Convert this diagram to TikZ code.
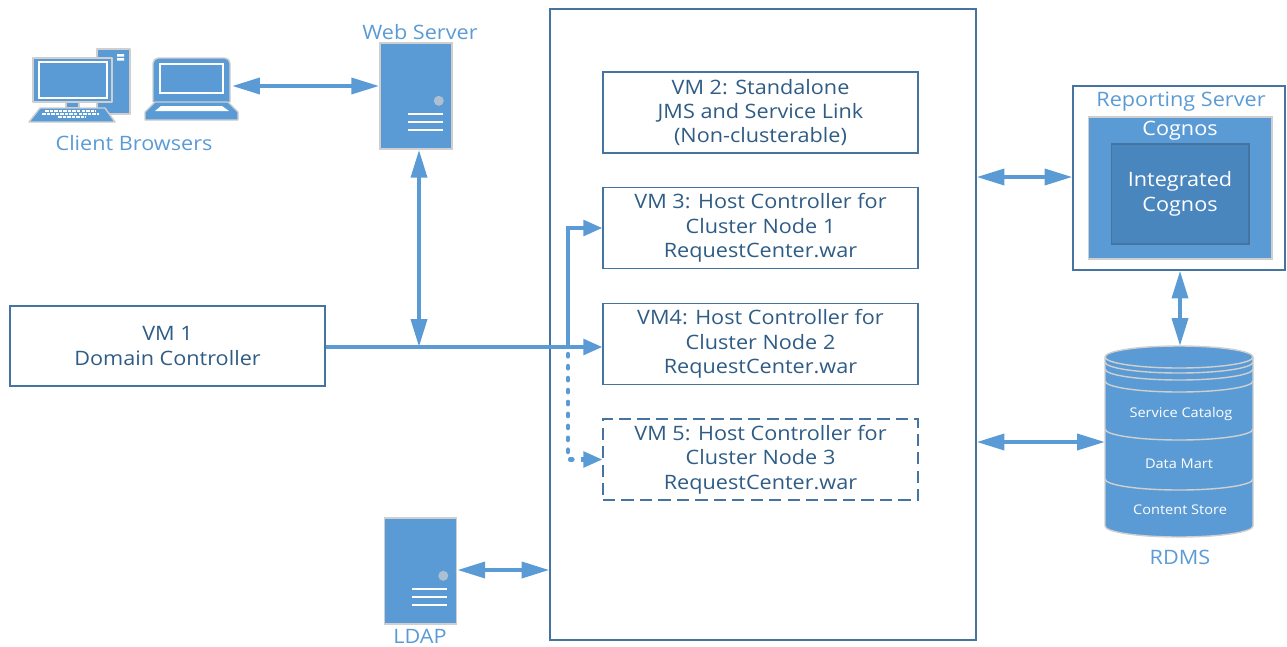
\documentclass[tikz,border=0pt]{standalone}
\usepackage{fontspec}
\setmainfont[FakeStretch=1.09]{Open Sans}
\usetikzlibrary{arrows.meta}
\definecolor{iconblue}{HTML}{5B9BD5}
\definecolor{darkblue}{HTML}{4A86BE}
\definecolor{boxline}{HTML}{44749F}
\definecolor{boxtext}{HTML}{2F5C85}
\definecolor{iconedge}{HTML}{CFCFCF}
\tikzset{%
    vmbox/.style={draw=boxline,line width=0.65pt,minimum width=6.3cm,minimum height=1.62cm,inner sep=0pt,align=center,text=boxtext,font=\fontsize{11.3}{13.9}\selectfont},
    dashbox/.style={vmbox,dash pattern=on 7pt off 3.5pt},
    link/.style={{Triangle[length=15.9pt,width=9pt]}-{Triangle[length=15.9pt,width=9pt]},iconblue,line width=2.4pt},
    feed/.style={-{Triangle[length=10.8pt,width=8.7pt]},iconblue,line width=2.4pt},
    dotfeed/.style={iconblue,line width=2.4pt,line cap=round,dash pattern=on 1.4pt off 5.4pt},
    caption/.style={text=iconblue,inner sep=0pt,font=\fontsize{11.3}{13.9}\selectfont},
    servericon/.style={draw=iconedge,fill=iconblue,line width=0.9pt,minimum width=1.44cm,minimum height=2.12cm,inner sep=0pt},
    icon/.style={draw=iconedge,fill=iconblue,line width=0.8pt,line join=round},
    whitebar/.style={white,line width=1.1pt},
    dbline/.style={draw=iconedge,line width=0.8pt},
    dbtext/.style={text=white,inner sep=0pt,font=\fontsize{7.6}{9}\selectfont},
}
\newcommand{\serverbars}[1]{%
    \fill[iconedge!70!iconblue] ([xshift=-0.28cm,yshift=0.98cm]#1.south east) circle (0.1cm);
    \foreach \h in {0.72,0.56,0.39}
        \draw[whitebar] ([xshift=-0.9cm,yshift=\h cm]#1.south east) -- ++(0.7cm,0cm);
}
\begin{document}
\begin{tikzpicture}[x=0.02cm,y=-0.02cm]
            \useasboundingbox (0,0) rectangle (1287,646);

            %main box
            \node[draw=boxline,line width=0.65pt,minimum width=8.52cm,minimum height=12.62cm,inner sep=0pt] (host) at (763,324.5) {};
            \node[vmbox] (vmtwo) at (760.5,112.5) {VM 2: Standalone\\JMS and Service Link\\(Non-clusterable)};
            \node[vmbox] (vmthree) at (760.5,228) {VM 3: Host Controller for\\Cluster Node 1\\RequestCenter.war};
            \node[vmbox] (vmfour) at (760.5,344) {VM4: Host Controller for\\Cluster Node 2\\RequestCenter.war};
            \node[dashbox] (vmfive) at (760.5,459.5) {VM 5: Host Controller for\\Cluster Node 3\\RequestCenter.war};
            \node[vmbox,minimum height=1.6cm] (vmone) at (167.5,346) {VM 1\\Domain Controller};

            %servers
            \node[servericon] (web) at (416,96) {};
            \serverbars{web}
            \node[caption] (webcap) at (420,32) {Web Server};
            \node[servericon] (ldap) at (420.5,571) {};
            \serverbars{ldap}
            \node[caption] (ldapcap) at (420,636) {LDAP};

            %desktop
            \draw[icon] (97,49) rectangle (130,114);
            \fill[white] (117,54) rectangle (124,56.5) (117,58) rectangle (124,60.5);
            \draw[icon] (33,58) rectangle (112,102);
            \draw[white,line width=0.7pt] (39,62) rectangle (107,98);
            \draw[icon] (66,102) rectangle (79,108);
            \draw[icon] (29,122) -- (40,108) -- (105,108) -- (115,122) -- cycle;
            \foreach \r/\a/\b in {111/45/96,114/42/99,117/58/86}
                \draw[white,line width=1pt,dash pattern=on 2pt off 0.6pt] (\a,\r) -- (\b,\r);

            %laptop
            \draw[icon,rounded corners=3pt] (153,102) -- (153,58) -- (230,58) -- (230,102);
            \draw[white,line width=0.7pt] (160,64) rectangle (223,93);
            \draw[icon] (145,120) -- (145,112) -- (155,102) -- (228,102) -- (238,112) -- (238,120) -- cycle;
            \fill[white] (155,111) -- (161,106) -- (222,106) -- (229,111) -- cycle;
            \node[caption] (clientcap) at (134,143) {Client Browsers};
            \coordinate (laptop) at (232,86);

            %reporting
            \node[draw=boxline,line width=0.65pt,minimum width=4.24cm,minimum height=3.68cm,inner sep=0pt] (report) at (1179,178) {};
            \node[caption] (reportcap) at (1181,102) {Reporting Server};
            \node[fill=iconblue,draw=iconedge,line width=0.6pt,minimum width=3.68cm,minimum height=2.84cm,inner sep=0pt] (cognos) at (1180,188) {};
            \node[text=white,inner sep=0pt,font=\fontsize{11.3}{13.9}\selectfont] (cognoscap) at (1180,131) {Cognos};
            \node[fill=darkblue,draw=boxline,line width=0.6pt,minimum width=2.76cm,minimum height=2cm,inner sep=0pt,align=center,text=white,font=\fontsize{11.3}{13.9}\selectfont] (integrated) at (1180,194) {Integrated\\Cognos};

            %database
            \filldraw[icon] (1105,357) arc (180:360:74 and 11) -- (1253,526) arc (0:180:74 and 11) -- cycle;
            \foreach \s in {357,362,369,381,429,479}
                \draw[dbline] (1105,\s) arc (180:0:74 and 11);
            \node[dbtext] (catalog) at (1181,414) {Service Catalog};
            \node[dbtext] (mart) at (1179,464) {Data Mart};
            \node[dbtext] (store) at (1180,510) {Content Store};
            \node[caption] (rdmscap) at (1180,557) {RDMS};
            \coordinate (dbtop) at (1180,346);
            \coordinate (dbside) at (1105,442);

            %arrows
            \coordinate (junction) at (419,347);
            \coordinate (branch) at (568,347);
            \draw[link] (laptop) -- (web.west |- laptop);
            \draw[link] (junction |- web.south) -- (junction);
            \draw[iconblue,line width=2.4pt] (vmone.east |- branch) -- (branch);
            \draw[feed] (branch) -- (vmfour.west |- branch);
            \draw[feed] (branch) -- (branch |- vmthree.west) -- (vmthree.west);
            \draw[dotfeed] (568,354) -- (branch |- vmfive.west) -- (575,459.5);
            \draw[feed] (581,459.5) -- (vmfive.west);
            \draw[link] (host.east |- 0,177) -- (report.west |- 0,177);
            \draw[link] (host.east |- dbside) -- (dbside);
            \draw[link] (report.south -| dbtop) -- (dbtop);
            \draw[link] (ldap.east |- 0,570) -- (host.west |- 0,570);
        \end{tikzpicture}
\end{document}
